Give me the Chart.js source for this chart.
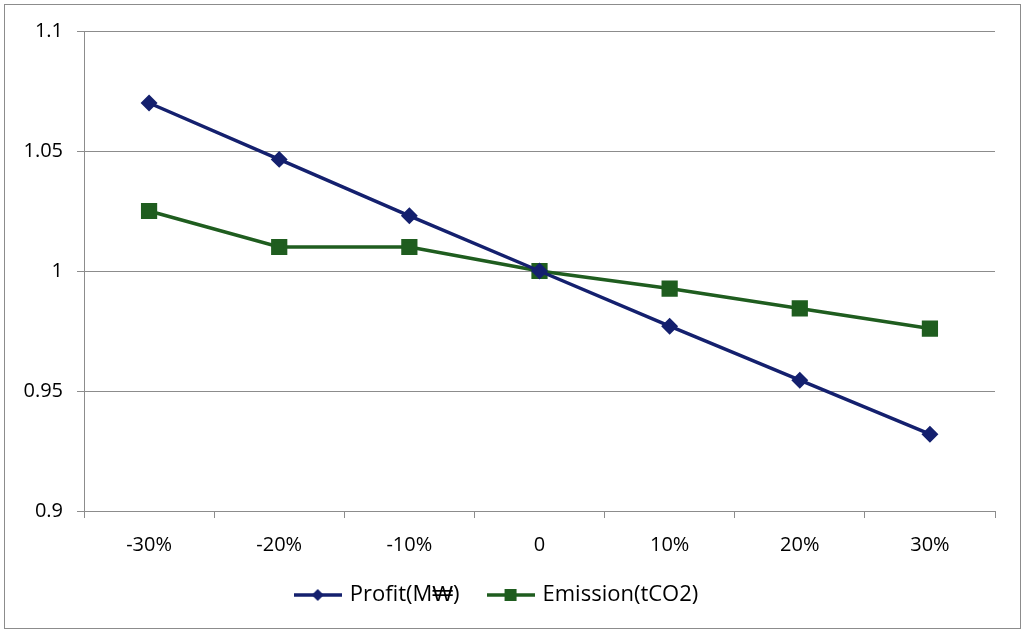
<!DOCTYPE html>
<html>
<head>
<meta charset="utf-8">
<script src="https://cdn.jsdelivr.net/npm/chart.js@4.4.0/dist/chart.umd.min.js"></script>
<style>
  body { margin: 0; background: #fff; }
  #wrap { position: relative; width: 1024px; height: 632px; }
  #frame { position: absolute; left: 4px; top: 4px; width: 1015px; height: 623px; border: 1px solid #8c8c8c; pointer-events: none; }
</style>
</head>
<body>
<div id="wrap">
  <canvas id="chart" width="1024" height="632"></canvas>
  <div id="frame"></div>
</div>
<script>
// categories and series
const categories = ['-30%', '-20%', '-10%', '0', '10%', '20%', '30%'];
const profit = [1.070, 1.0465, 1.023, 1.000, 0.977, 0.9545, 0.932];
const emission = [1.025, 1.010, 1.010, 1.000, 0.9927, 0.9844, 0.976];
const yTicks = [0.9, 0.95, 1, 1.05, 1.1];

const profitColor = '#14206e';
const emissionColor = '#1f5d1f';
const fontFamily = "'Open Sans', 'Liberation Sans', sans-serif";

// legend swatch: short line with the marker in the middle
function legendSwatch(color, marker) {
  const c = document.createElement('canvas');
  c.width = 48; c.height = 16;
  const ctx = c.getContext('2d');
  ctx.strokeStyle = color;
  ctx.lineWidth = 3.5;
  ctx.beginPath();
  ctx.moveTo(0, 8);
  ctx.lineTo(48, 8);
  ctx.stroke();
  ctx.fillStyle = color;
  if (marker === 'diamond') {
    ctx.beginPath();
    ctx.moveTo(24, 2); ctx.lineTo(30, 8); ctx.lineTo(24, 14); ctx.lineTo(18, 8);
    ctx.closePath();
    ctx.fill();
  } else {
    ctx.fillRect(18, 2, 12, 12);
  }
  return c;
}

const swatches = [legendSwatch(profitColor, 'diamond'), legendSwatch(emissionColor, 'square')];

new Chart(document.getElementById('chart'), {
  type: 'line',
  data: {
    labels: categories,
    datasets: [{
      label: 'Profit(M\u20A9)',
      data: profit,
      borderColor: profitColor,
      backgroundColor: profitColor,
      borderWidth: 3.5,
      pointStyle: 'rectRot',
      pointRadius: 6,
      pointHoverRadius: 6,
      tension: 0
    }, {
      label: 'Emission(tCO2)',
      data: emission,
      borderColor: emissionColor,
      backgroundColor: emissionColor,
      borderWidth: 3.5,
      pointStyle: 'rect',
      pointRadius: 9,
      pointHoverRadius: 9,
      tension: 0
    }]
  },
  options: {
    responsive: false,
    animation: false,
    layout: { padding: { left: 0, right: 29, top: 31, bottom: 16 } },
    plugins: {
      tooltip: { enabled: false },
      legend: {
        position: 'bottom',
        labels: {
          usePointStyle: true,
          pointStyleWidth: 42,
          color: '#000',
          font: { family: fontFamily, size: 22 },
          padding: 30,
          boxHeight: 16,
          generateLabels: function(chart) {
            return chart.data.datasets.map((ds, i) => ({
              text: ds.label,
              pointStyle: swatches[i],
              fillStyle: ds.borderColor,
              strokeStyle: ds.borderColor,
              lineWidth: 0,
              fontColor: '#000',
              datasetIndex: i
            }));
          }
        }
      }
    },
    scales: {
      x: {
        offset: true,
        grid: {
          offset: true,
          drawOnChartArea: false,
          color: '#8c8c8c',
          tickLength: 7
        },
        border: { color: '#8c8c8c' },
        ticks: {
          color: '#000',
          font: { family: fontFamily, size: 20 },
          padding: 15
        },
        afterFit: function(scale) { scale.height = 43; }
      },
      y: {
        min: 0.9,
        max: 1.1,
        afterBuildTicks: function(scale) {
          scale.ticks = yTicks.map(v => ({ value: v }));
        },
        grid: { color: '#8c8c8c', tickLength: 7 },
        border: { color: '#8c8c8c' },
        ticks: {
          color: '#000',
          font: { family: fontFamily, size: 20 },
          padding: 14,
          callback: function(value) { return String(Number(value.toFixed(2))); }
        },
        afterFit: function(scale) { scale.width = 84; }
      }
    }
  }
});
</script>
</body>
</html>
